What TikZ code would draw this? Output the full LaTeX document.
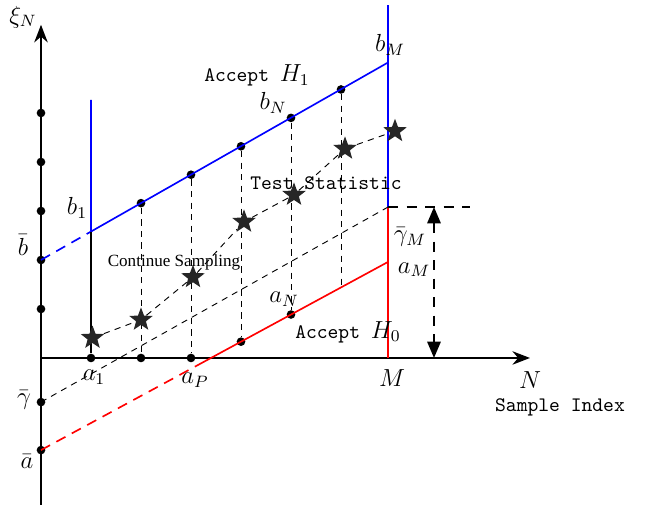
\documentclass[tikz,border=0pt]{standalone}
\usepackage{amsmath,amssymb}
\usepackage{fontspec}
\usepackage{tikz}
\usetikzlibrary{arrows.meta,positioning,calc,shapes.geometric}
\newfontfamily\contfont{Liberation Serif}

\begin{document}
\begin{tikzpicture}[
    x=0.8535cm,y=0.8364cm,
    axis/.style={line width=1pt,-{Stealth[length=3mm,width=2.3mm]}},
    upper/.style={blue,line width=0.8pt},
    lower/.style={red,line width=0.8pt},
    longdash/.style={dash pattern=on 5pt off 3.5pt},
    guide/.style={line width=0.45pt,dash pattern=on 3pt off 2.6pt},
    bold dash/.style={line width=0.9pt,dash pattern=on 5pt off 4pt},
    dot/.style={circle,fill,inner sep=0pt,minimum size=4.2pt},
    stat/.style={star,star points=5,star point ratio=2.4,fill=black!85,inner sep=0pt,minimum size=12pt},
    lab/.style={font=\large,inner sep=1pt},
    tt/.style={font=\ttfamily,inner sep=1pt}
  ]
    \useasboundingbox (-0.82,-3.08) rectangle (12.18,7.306);

    % axes
    \coordinate (O) at (0,0);
    \coordinate (ytop) at (0,6.8);
    \coordinate (ybot) at (0,-3.0);
    \coordinate (xend) at (9.78,0);
    \draw[axis] (ybot) -- (ytop);
    \draw[axis] (O) -- (xend);

    % boundary points
    \coordinate (bbar) at (0,2);
    \coordinate (b1) at (1,2.58);
    \coordinate (b1top) at (1,5.27);
    \coordinate (bM) at (6.94,6.03);
    \coordinate (Mtop) at (6.94,7.2);
    \coordinate (gM) at (6.94,3.08);
    \coordinate (M) at (6.94,0);
    \coordinate (aM) at (6.94,1.96);
    \coordinate (abar) at (0,-1.88);
    \coordinate (aP) at (3.2,-0.11);
    \coordinate (gbar) at (0,-0.9);
    \coordinate (gR) at (8.58,3.08);
    \coordinate (gTop) at (7.86,3.08);
    \coordinate (gBot) at (7.86,0);
    \coordinate (a6) at (6,1.44);

    \node[dot] (b2) at (2,3.16) {};
    \node[dot] (b3) at (3,3.74) {};
    \node[dot] (b4) at (4,4.32) {};
    \node[dot] (b5) at (5,4.90) {};
    \node[dot] (b6) at (6,5.48) {};
    \node[dot] (a4) at (4,0.333) {};
    \node[dot] (a5) at (5,0.887) {};
    \node[dot] (n1) at (1,0) {};
    \node[dot] (n2) at (2,0) {};
    \node[dot] (n3) at (3,0) {};
    \foreach \i in {1,...,5}
      \node[dot] (y\i) at (0,\i) {};
    \node[dot] (yg) at (gbar) {};
    \node[dot] (ya) at (abar) {};

    % thresholds
    \draw[upper,longdash] (bbar) -- (b1);
    \draw[upper] (b1top) -- (b1) -- (bM);
    \draw[upper] (Mtop) -- (gM);
    \draw[lower] (gM) -- (M);
    \draw[lower,longdash] (abar) -- (aP);
    \draw[lower] (aP) -- (aM);
    \draw[line width=0.7pt] (b1) -- (n1);
    \draw[guide] (gbar) -- (gM);
    \draw[guide] (b2) -- (n2);
    \draw[guide] (b3) -- (n3);
    \draw[guide] (b4) -- (a4);
    \draw[guide] (b5) -- (a5);
    \draw[guide] (b6) -- (a6);
    \draw[bold dash] (gM) -- (gR);
    \draw[bold dash,{Triangle[length=2.8mm,width=2.3mm]}-{Triangle[length=2.8mm,width=2.3mm]}] (gTop) -- (gBot);

    % test statistic
    \node[stat] (s1) at (1.03,0.41) {};
    \node[stat] (s2) at (2.0,0.78) {};
    \node[stat] (s3) at (3.04,1.65) {};
    \node[stat] (s4) at (4.06,2.78) {};
    \node[stat] (s5) at (5.06,3.33) {};
    \node[stat] (s6) at (6.08,4.27) {};
    \node[stat] (s7) at (7.08,4.63) {};
    \draw[guide] (s1) -- (s2) -- (s3) -- (s4) -- (s5) -- (s6) -- (s7);

    % labels
    \node[lab] (xiN) at (-0.36,6.96) {$\xi_N$};
    \node[lab] (lbbar) at (-0.36,2.3) {$\bar{b}$};
    \node[lab] (lgbar) at (-0.34,-0.86) {$\bar{\gamma}$};
    \node[lab] (labar) at (-0.28,-2.12) {$\bar{a}$};
    \node[lab] (lb1) at (0.72,3.06) {$b_1$};
    \node[lab] (la1) at (1.06,-0.39) {$a_1$};
    \node[lab] (laP) at (3.08,-0.45) {$a_P$};
    \node[lab] (lM) at (7.02,-0.41) {$M$};
    \node[lab] (lN) at (9.78,-0.45) {$N$};
    \node[lab] (lbM) at (6.98,6.39) {$b_M$};
    \node[lab] (lbN) at (4.64,5.2) {$b_N$};
    \node[lab] (laN) at (4.86,1.2) {$a_N$};
    \node[lab] (lgM) at (7.38,2.47) {$\bar{\gamma}_M$};
    \node[lab] (laM) at (7.46,1.8) {$a_M$};
    \node[tt] (acc1) at (4.32,5.76) {Accept {\large$H_1$}};
    \node[tt] (acc0) at (6.14,0.53) {Accept {\large$H_0$}};
    \node[tt] (tstat) at (5.7,3.57) {Test Statistic};
    \node[tt] (sidx) at (10.38,-1.0) {Sample Index};
    \node[font=\contfont\fontsize{8.3}{10}\selectfont,inner sep=1pt] (cont) at (2.66,1.96) {Continue Sampling};
  \end{tikzpicture}
\end{document}
